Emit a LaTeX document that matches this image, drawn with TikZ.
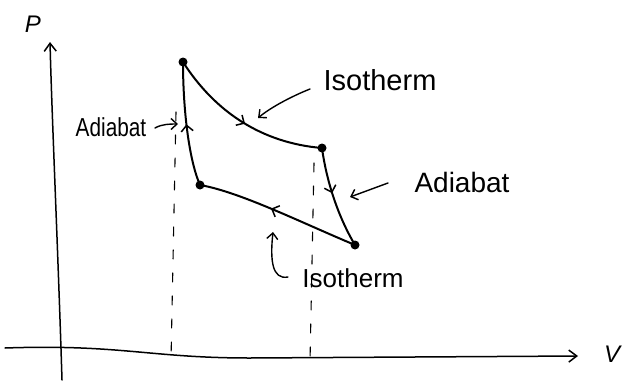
\documentclass[tikz,border=0pt]{standalone}
\usepackage{fontspec}
\setmainfont{Liberation Sans}
\usetikzlibrary{arrows.meta,decorations.markings}
\begin{document}
\begin{tikzpicture}[x=1pt,y=-1pt,
  line cap=round, line join=round,
  axis/.style={draw=black, line width=1.5pt, -{Straight Barb[length=8pt,width=12pt,line width=1.5pt]}},
  curve/.style={draw=black, line width=2pt},
  flow/.style={postaction={decorate}, decoration={markings, mark=at position #1 with {\arrow{Straight Barb[length=6pt,width=12pt,line width=1.5pt]}}}},
  dot/.style={circle, fill=black, inner sep=0pt, minimum size=9pt},
  guide/.style={draw=black, line width=1.1pt, dash pattern=on 9pt off 14pt},
  pointer/.style={draw=black, line width=1.4pt, -{Straight Barb[length=6pt,width=11pt,line width=1.4pt]}},
  lbl/.style={inner sep=0pt, font=\fontsize{#1}{#1}\selectfont}
]
\useasboundingbox (0,0) rectangle (623,383);

% axes
\coordinate (yb) at (62,380);
\coordinate (yt) at (50,42);
\coordinate (xl) at (5,348);
\coordinate (xr) at (578,356);
\draw[axis] (yb) .. controls (58,250) and (52,120) .. (yt);
\draw[axis] (xl) .. controls (120,344) and (150,358) .. (250,358) -- (xr);
\node[lbl=24pt, font=\itshape\fontsize{24}{24}\selectfont] (P) at (33,24) {P};
\node[lbl=24pt, font=\itshape\fontsize{24}{24}\selectfont] (V) at (612,354) {V};

% state points
\node[dot] (A) at (183,62) {};
\node[dot] (B) at (322,148) {};
\node[dot] (C) at (355,245) {};
\node[dot] (D) at (200,185) {};

% dashed guides
\coordinate (g1t) at (176,112);
\coordinate (g1b) at (171,360);
\coordinate (g2t) at (314,163);
\coordinate (g2b) at (310,362);
\draw[guide] (g1t) -- (g1b);
\draw[guide] (g2t) -- (g2b);

% cycle
\draw[curve, flow=0.52] (A.center) .. controls (215,112) and (262,143) .. (B.center);
\draw[curve, flow=0.45] (B.center) .. controls (327,185) and (340,220) .. (C.center);
\draw[curve, flow=0.55] (C.center) .. controls (300,222) and (240,192) .. (D.center);
\draw[curve, flow=0.5] (D.center) .. controls (189,160) and (183,110) .. (A.center);

% labels
\node[lbl=29pt] (iso1) at (380,80) {Isotherm};
\node[lbl=26pt, xscale=0.8, transform shape] (adi1) at (111,127) {Adiabat};
\node[lbl=28pt] (adi2) at (462,182) {Adiabat};
\node[lbl=26pt] (iso2) at (353,278) {Isotherm};

\coordinate (iso1s) at (310,89);
\coordinate (iso1e) at (258,118);
\coordinate (adi1s) at (155,128);
\coordinate (adi1e) at (178,124);
\coordinate (adi2s) at (388,183);
\coordinate (adi2e) at (350,197);
\coordinate (iso2s) at (288,277);
\coordinate (iso2e) at (273,232);
\draw[pointer] (iso1s) .. controls (290,97) and (270,108) .. (iso1e);
\draw[pointer] (adi1s) .. controls (162,124) and (170,124) .. (adi1e);
\draw[pointer] (adi2s) -- (adi2e);
\draw[pointer] (iso2s) .. controls (272,280) and (270,260) .. (iso2e);
\end{tikzpicture}
\end{document}
